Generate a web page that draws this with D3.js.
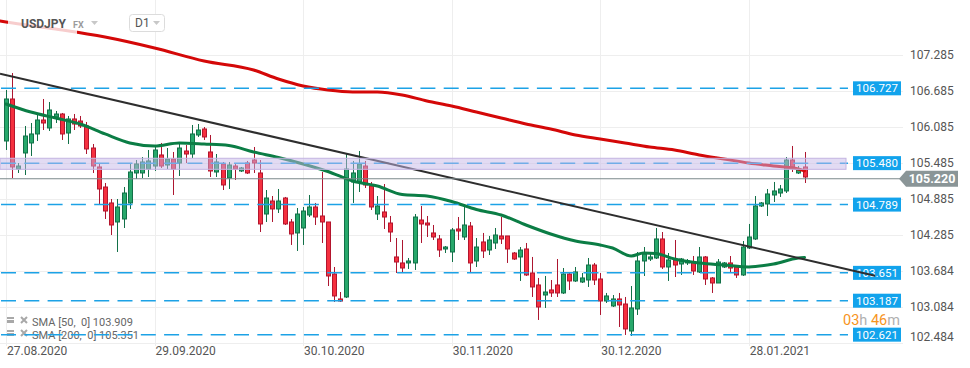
<!DOCTYPE html>
<html>
<head>
<meta charset="utf-8">
<script src="https://cdn.jsdelivr.net/npm/d3@7"></script>
<style>
  body { margin: 0; background: #fff; font-family: Roboto, "Noto Sans", sans-serif; }
  svg { display: block; }
</style>
</head>
<body>
<div id="chart"></div>
<script>
// USDJPY D1 candles
const open = [105.849,106.549,105.382,105.649,105.816,105.966,106.199,106.066,106.249,106.299,
105.982,106.216,106.182,106.099,105.732,105.416,105.082,104.816,104.499,104.549,
104.816,105.316,105.316,105.382,105.432,105.616,105.449,105.549,105.482,105.682,
105.632,105.949,106.049,105.666,105.332,105.466,105.232,105.432,105.349,105.482,
105.532,105.316,104.632,104.849,104.716,104.899,104.499,104.316,104.399,104.616,
104.749,104.599,104.499,103.632,103.216,103.249,105.166,105.166,105.432,105.099,
104.632,104.666,104.482,103.916,103.816,103.816,103.816,104.532,104.482,104.316,
104.216,104.049,103.999,104.382,104.249,104.432,103.849,104.166,104.032,104.149,
104.266,104.266,103.982,103.916,104.049,103.649,103.449,103.282,103.366,103.449,
103.316,103.632,103.516,103.499,103.532,103.782,103.549,103.182,103.099,103.216,
103.132,102.682,103.049,103.849,103.882,103.899,104.216,103.749,103.866,103.799,
103.816,103.832,103.666,103.916,103.566,103.482,103.749,103.816,103.749,103.616,
104.066,104.216,104.766,104.799,104.949,104.982,105.016,105.532,105.316,105.416];
const high = [106.699,106.982,105.482,106.099,106.149,106.316,106.549,106.499,106.349,106.316,
106.266,106.299,106.266,106.166,105.799,105.482,105.149,104.882,104.882,105.082,
105.482,105.532,105.582,105.699,105.749,105.816,105.732,105.666,105.799,105.782,
106.116,106.132,106.082,105.949,105.632,105.499,105.499,105.482,105.416,105.516,
105.749,105.532,105.032,104.932,105.049,104.916,104.549,104.732,104.749,104.949,
104.816,105.332,104.499,103.749,103.332,105.632,105.516,105.682,105.516,105.166,
104.932,105.132,104.599,104.232,104.199,103.899,104.632,104.766,104.599,104.449,
104.282,104.099,104.399,104.582,104.749,104.499,104.232,104.316,104.266,104.399,
104.582,104.266,103.999,104.082,104.149,103.916,103.566,103.599,103.532,103.882,
103.732,103.649,103.749,103.649,103.899,103.816,103.649,103.316,103.282,103.316,
103.249,103.432,103.999,104.082,103.982,104.399,104.332,103.982,104.199,103.899,
103.882,103.932,104.082,103.932,103.582,103.882,103.832,103.932,103.766,104.182,
104.466,104.932,104.832,105.049,105.166,105.116,105.582,105.766,105.432,105.666];
const low = [105.699,105.232,105.316,105.282,105.599,105.849,106.032,106.016,106.149,105.866,
105.799,106.032,106.066,105.632,105.316,104.799,104.549,104.282,103.999,104.399,
104.716,105.216,105.232,105.249,105.349,105.399,105.382,104.949,105.266,105.482,
105.566,105.916,105.866,105.249,105.249,105.032,105.049,105.199,105.332,105.299,
105.316,104.332,104.499,104.499,104.649,104.449,104.116,104.016,104.116,104.582,
104.449,104.149,103.432,103.166,103.166,103.232,104.816,104.999,105.066,104.699,
104.532,104.382,104.166,103.649,103.649,103.716,103.699,104.149,104.249,104.199,
103.916,103.982,103.832,104.199,104.199,103.666,103.749,103.899,103.949,104.049,
104.132,103.816,103.866,103.516,103.599,103.249,102.866,103.066,103.249,103.249,
103.299,103.366,103.499,103.482,103.416,103.449,102.949,103.149,103.082,102.749,
102.616,102.599,102.949,103.599,103.849,103.882,103.716,103.516,103.582,103.616,
103.782,103.616,103.649,103.449,103.316,103.482,103.732,103.666,103.566,103.599,
104.049,104.199,104.749,104.599,104.832,104.916,104.982,105.332,105.299,105.149];
const close = [106.549,105.416,105.432,105.932,105.966,106.199,106.149,106.366,106.299,105.966,
106.216,106.132,106.099,105.716,105.432,105.049,104.682,104.449,104.749,104.982,
105.332,105.466,105.499,105.516,105.699,105.432,105.549,105.382,105.732,105.632,
105.966,106.032,105.916,105.349,105.499,105.116,105.449,105.382,105.399,105.316,
105.482,104.466,104.899,104.716,104.849,104.466,104.299,104.632,104.682,104.749,
104.582,104.499,103.599,103.266,103.182,105.382,105.316,105.466,105.116,104.749,
104.766,104.582,104.332,103.832,103.732,103.849,104.582,104.466,104.449,104.249,
104.032,104.082,104.366,104.349,104.449,103.816,104.082,104.016,104.199,104.282,
104.216,104.049,103.882,104.032,103.616,103.416,103.082,103.332,103.316,103.316,
103.632,103.516,103.666,103.566,103.782,103.532,103.182,103.266,103.216,103.116,
102.716,103.066,103.849,103.966,103.916,104.216,103.749,103.866,103.782,103.882,
103.849,103.682,103.916,103.549,103.482,103.832,103.816,103.732,103.616,104.082,
104.249,104.766,104.816,104.966,105.016,105.049,105.532,105.416,105.366,105.249];

// moving averages, [candle index, value]
const sma50 = [[0,106.466],[4,106.332],[8,106.232],[12,106.132],[16,105.966],[20,105.816],[24,105.766],
  [28,105.816],[32,105.799],[36,105.774],[40,105.666],[44,105.574],[48,105.466],[52,105.341],[56,105.182],
  [60,105.099],[64,104.957],[68,104.932],[72,104.841],[76,104.707],[80,104.616],[84,104.449],[88,104.299],
  [92,104.182],[96,104.116],[98,104.066],[101,103.932],[103,103.982],[105,103.974],[108,103.882],
  [112,103.816],[116,103.782],[120,103.749],[124,103.799],[128,103.899],[129,103.909]];
const sma200 = [[-1,107.849],[0,107.832],[8,107.716],[16,107.582],[24,107.399],[32,107.182],[40,107.032],
  [44,106.882],[48,106.766],[52,106.699],[56,106.666],[60,106.666],[64,106.616],[68,106.516],[72,106.432],
  [76,106.332],[80,106.232],[84,106.132],[88,106.049],[92,105.949],[96,105.882],[100,105.816],[104,105.749],
  [108,105.699],[112,105.616],[116,105.549],[120,105.482],[124,105.432],[128,105.382],[129,105.351]];
const trend = [[-0.97,106.969],[140.4,103.604]];

const levels = [106.727,105.480,104.789,103.651,103.187,102.621];
const zone = [105.377,105.561];
const lastPrice = 105.220;
const yTicks = [107.285,106.685,106.085,105.485,104.885,104.285,103.684,103.084,102.484];
const xTicks = [0,24,48,72,96,120];
const xTickLabels = ["27.08.2020","29.09.2020","30.10.2020","30.11.2020","30.12.2020","28.01.2021"];

const W = 970, H = 368;
const plotRight = 848;
const x = d3.scaleLinear().domain([0, 129]).range([6, 804.5]);
const y = d3.scaleLinear().domain([102.482, 108.199]).range([343, 0]);

const svg = d3.select("#chart").append("svg").attr("width", W).attr("height", H);
svg.append("defs").append("clipPath").attr("id", "plotclip")
  .append("rect").attr("x", 0).attr("y", 0).attr("width", plotRight).attr("height", 343);

// grid
svg.append("g").selectAll("line").data(yTicks).join("line")
  .attr("x1", 0).attr("x2", 903)
  .attr("y1", d => Math.round(y(d)) + 0.5).attr("y2", d => Math.round(y(d)) + 0.5)
  .attr("stroke", "#eeeeee").attr("stroke-width", 1);
svg.append("g").selectAll("line").data(xTicks).join("line")
  .attr("x1", d => Math.round(x(d)) + 0.5).attr("x2", d => Math.round(x(d)) + 0.5)
  .attr("y1", 0).attr("y2", 346)
  .attr("stroke", "#eeeeee").attr("stroke-width", 1);

// axis labels
svg.append("g").selectAll("text").data(yTicks).join("text")
  .attr("x", 910).attr("y", d => Math.min(y(d), 337) + 4.3)
  .attr("font-size", 12).attr("fill", "#555")
  .text(d => d.toFixed(3));
svg.append("g").selectAll("text").data(xTicks).join("text")
  .attr("x", d => x(d) + 1).attr("y", 355)
  .attr("font-size", 12).attr("fill", "#555")
  .text((d, i) => xTickLabels[i]);

// legend
const legend = svg.append("g").attr("fill", "#9a9a9a");
[["SMA [50,  0] 103.909", 322], ["SMA [200,  0] 105.351", 335]].forEach(([t, cy]) => {
  legend.append("rect").attr("x", 7).attr("y", cy - 5).attr("width", 7).attr("height", 6).attr("fill", "#a8a8a8");
  legend.append("line").attr("x1", 7).attr("x2", 14).attr("y1", cy - 2.5).attr("y2", cy - 2.5).attr("stroke", "#fff").attr("stroke-width", 1);
  legend.append("path").attr("d", `M21,${cy-5} L27,${cy+1} M27,${cy-5} L21,${cy+1}`)
    .attr("stroke", "#a8a8a8").attr("stroke-width", 2);
  legend.append("text").attr("x", 32).attr("y", cy + 4).attr("font-size", 11).attr("fill", "#666")
    .attr("xml:space", "preserve").style("white-space", "pre").text(t);
});

const plot = svg.append("g").attr("clip-path", "url(#plotclip)");

// candles
const idx = d3.range(open.length);
const up = i => close[i] >= open[i];
plot.append("g").selectAll("line").data(idx).join("line")
  .attr("x1", i => Math.round(x(i)) + 0.5).attr("x2", i => Math.round(x(i)) + 0.5)
  .attr("y1", i => y(high[i])).attr("y2", i => y(low[i]))
  .attr("stroke", i => up(i) ? "#127048" : "#ad1630").attr("stroke-width", 1);
plot.append("g").selectAll("rect").data(idx).join("rect")
  .attr("x", i => Math.round(x(i)) - 1.5)
  .attr("width", 4)
  .attr("y", i => Math.min(y(open[i]), y(close[i])))
  .attr("height", i => Math.max(1, Math.abs(y(open[i]) - y(close[i]))))
  .attr("fill", i => up(i) ? "#27a86b" : "#f5303f")
  .attr("stroke", i => up(i) ? "#127048" : "#b3152d").attr("stroke-width", 1);

// moving averages
const smaLine = d3.line().x(d => x(d[0])).y(d => y(d[1])).curve(d3.curveMonotoneX);
plot.append("path").datum(sma200).attr("d", smaLine)
  .attr("fill", "none").attr("stroke", "#d40808").attr("stroke-width", 3).attr("stroke-linecap", "round");
plot.append("path").datum(sma50).attr("d", smaLine)
  .attr("fill", "none").attr("stroke", "#0b7d45").attr("stroke-width", 3).attr("stroke-linecap", "round");

// horizontal levels
plot.append("g").selectAll("line").data(levels).join("line")
  .attr("x1", 1).attr("x2", plotRight)
  .attr("y1", d => y(d)).attr("y2", d => y(d))
  .attr("stroke", "#1ca2e6").attr("stroke-width", 1.5).attr("stroke-dasharray", "15,8.3");

// level tags
const tags = svg.append("g");
tags.selectAll("rect").data(levels).join("rect")
  .attr("x", 853).attr("width", 48).attr("y", d => y(d) - 7).attr("height", 14)
  .attr("fill", "#12a3ec");
tags.selectAll("text").data(levels).join("text")
  .attr("x", 877).attr("y", d => y(d) + 4).attr("text-anchor", "middle")
  .attr("font-size", 11.5).attr("fill", "#fff").text(d => d.toFixed(3));

// trend line
const trendLine = d3.line().x(d => x(d[0])).y(d => y(d[1]));
svg.append("path").datum(trend).attr("d", trendLine)
  .attr("fill", "none").attr("stroke", "#2e2e2e").attr("stroke-width", 2);

// last price
const ly = y(lastPrice);
svg.append("line").attr("x1", 0).attr("x2", 900).attr("y1", ly).attr("y2", ly)
  .attr("stroke", "#7b898b").attr("stroke-width", 1.2);
svg.append("path")
  .attr("d", `M899,${ly} L906,${ly-8} L958,${ly-8} L958,${ly+8} L906,${ly+8} Z`)
  .attr("fill", "#8a9597");
svg.append("text").attr("x", 932).attr("y", ly + 4.5).attr("text-anchor", "middle")
  .attr("font-size", 12.5).attr("font-weight", "bold").attr("fill", "#fff").text(lastPrice.toFixed(3));

// resistance zone, drawn over the chart
svg.append("rect")
  .attr("x", 0).attr("width", 846)
  .attr("y", y(zone[1])).attr("height", y(zone[0]) - y(zone[1]))
  .attr("fill", "rgba(198,184,232,0.5)").attr("stroke", "#c4b4e2").attr("stroke-width", 1);

// timer
const timer = svg.append("text").attr("x", 843).attr("y", 325).attr("font-size", 14.5);
timer.append("tspan").attr("fill", "#f7941d").text("03");
timer.append("tspan").attr("fill", "#b0b0b0").text("h");
timer.append("tspan").attr("fill", "#f7941d").text(" 46");
timer.append("tspan").attr("fill", "#b0b0b0").text("m");

// header
svg.append("rect").attr("x", 8).attr("y", 11).attr("width", 69).attr("height", 24)
  .attr("fill", "#fff").attr("opacity", 0.8);
svg.append("text").attr("x", 21).attr("y", 27.5).attr("font-size", 12).attr("font-weight", "bold")
  .attr("fill", "#555").text("USDJPY");
svg.append("text").attr("x", 73).attr("y", 27.5).attr("font-size", 9).attr("font-weight", "bold")
  .attr("fill", "#9b9b9b").text("FX");
svg.append("path").attr("d", "M91,21 L98,21 L94.5,25 Z").attr("fill", "#c8c8c8");
svg.append("rect").attr("x", 129.5).attr("y", 14.5).attr("width", 35).attr("height", 17).attr("rx", 3)
  .attr("fill", "#fff").attr("stroke", "#dcdcdc");
svg.append("text").attr("x", 135).attr("y", 27).attr("font-size", 12).attr("fill", "#555").text("D1");
svg.append("path").attr("d", "M153,21 L160,21 L156.5,25 Z").attr("fill", "#c8c8c8");
</script>
</body>
</html>
